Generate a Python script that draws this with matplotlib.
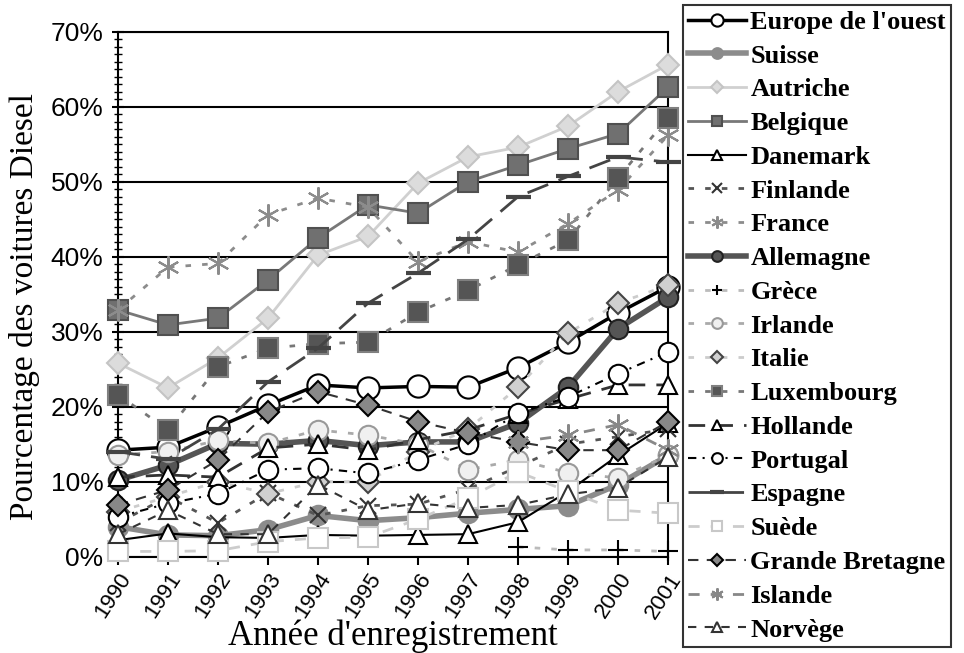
import numpy as np
import matplotlib
matplotlib.use("Agg")
import matplotlib.pyplot as plt
from matplotlib.ticker import MultipleLocator, FuncFormatter

nan = np.nan
years = list(range(1990, 2002))

# diesel share (%) per country
europe = [14.2, 14.6, 17.3, 20.2, 22.9, 22.5, 22.7, 22.6, 25.2, 28.6, 32.5, 36.0]
suisse = [4.0, 2.9, 2.8, 3.6, 5.5, 4.8, 5.2, 5.8, 6.3, 6.8, 9.6, 13.5]
autriche = [25.8, 22.5, 26.5, 31.8, 40.2, 42.7, 49.8, 53.3, 54.6, 57.4, 62.0, 65.6]
belgique = [32.9, 30.9, 31.8, 36.9, 42.5, 46.9, 45.8, 50.0, 52.2, 54.4, 56.4, 62.6]
danemark = [2.2, 3.1, 2.6, 2.5, 2.9, 2.8, 2.9, 3.0, 4.6, 8.7, 13.5, 17.8]
finlande = [4.5, 8.0, 4.5, 8.5, 5.5, 6.8, 7.0, 9.0, 12.0, 15.0, 16.0, 17.0]
france = [32.9, 38.6, 39.1, 45.6, 47.8, 46.6, 39.3, 42.0, 40.6, 44.4, 48.9, 56.2]
allemagne = [10.2, 12.2, 15.1, 15.0, 15.5, 14.8, 15.3, 15.3, 17.8, 22.6, 30.4, 34.6]
grece = [nan, nan, nan, nan, nan, nan, nan, nan, 1.3, 0.9, 0.9, 0.7]
irlande = [13.6, 14.0, 15.5, 15.1, 16.9, 16.2, 15.0, 11.6, 12.9, 11.2, 10.5, 13.5]
italie = [6.0, 8.0, 10.0, 8.4, 10.0, 10.0, 14.0, 17.0, 22.6, 29.8, 33.8, 36.2]
luxembourg = [21.6, 16.9, 25.3, 27.8, 28.4, 28.6, 32.6, 35.5, 38.9, 42.2, 50.5, 58.5]
hollande = [10.6, 10.9, 10.6, 14.5, 15.0, 14.2, 15.6, 16.9, 19.0, 21.0, 22.9, 22.9]
portugal = [5.3, 7.1, 8.4, 11.6, 11.8, 11.1, 12.9, 15.0, 19.1, 21.3, 24.4, 27.3]
espagne = [14.0, 13.0, 17.0, 23.3, 27.8, 33.8, 37.8, 42.3, 48.0, 50.7, 53.3, 52.6]
suede = [0.7, 0.7, 0.8, 2.0, 2.5, 2.6, 5.0, 7.8, 11.3, 8.7, 6.2, 5.8]
gbretagne = [6.9, 8.9, 12.9, 19.3, 22.0, 20.2, 18.0, 16.5, 15.3, 14.2, 14.2, 18.0]
islande = [nan, nan, nan, nan, nan, nan, nan, nan, 15.3, 16.2, 17.6, 14.2]
norvege = [3.0, 6.2, 3.0, 3.0, 9.6, 6.2, 7.1, 6.5, 6.9, 8.3, 9.2, 13.3]

star = (6, 2, 0)

# name, data, line color, lw, linestyle, marker, face, edge, marker size
series = [
    ("Europe de l'ouest", europe, "black", 2.5, "-", "o", "white", "black", 16),
    ("Suisse", suisse, "#8c8c8c", 4, "-", "o", "#8c8c8c", "#8c8c8c", 14),
    ("Autriche", autriche, "#d0d0d0", 2, "-", "D", "#dcdcdc", "#c4c4c4", 11),
    ("Belgique", belgique, "#787878", 2, "-", "s", "#707070", "#505050", 14),
    ("Danemark", danemark, "black", 1.5, "-", "^", "white", "black", 13),
    ("Finlande", finlande, "#555555", 2, (0, (2, 4)), "x", "#333333", "#333333", 12),
    ("France", france, "#8c8c8c", 2, (0, (2, 4)), star, "#8c8c8c", "#8c8c8c", 16),
    ("Allemagne", allemagne, "#555555", 4, "-", "o", "#555555", "#222222", 14),
    ("Grèce", grece, "#bbbbbb", 2, (0, (2, 4)), "+", "black", "black", 14),
    ("Irlande", irlande, "#aaaaaa", 2, (0, (2, 4)), "o", "#f0f0f0", "#999999", 14),
    ("Italie", italie, "#cccccc", 2, (0, (2, 4)), "D", "#d0d0d0", "#444444", 11),
    ("Luxembourg", luxembourg, "#777777", 2, (0, (2, 4)), "s", "#555555", "#808080", 14),
    ("Hollande", hollande, "#333333", 2, (0, (6, 4)), "^", "white", "black", 13),
    ("Portugal", portugal, "black", 1.5, (0, (4, 3, 1, 3)), "o", "white", "black", 14),
    ("Espagne", espagne, "#444444", 2, (0, (8, 4)), "_", "#444444", "#444444", 18),
    ("Suède", suede, "#cccccc", 2, (0, (4, 4)), "s", "white", "#c8c8c8", 14),
    ("Grande Bretagne", gbretagne, "#333333", 1.5, (0, (5, 4)), "D", "#888888", "black", 11),
    ("Islande", islande, "#888888", 2, (0, (4, 4)), star, "#888888", "#888888", 16),
    ("Norvège", norvege, "#333333", 1.5, (0, (4, 4)), "^", "white", "#333333", 13),
]

fig = plt.figure(figsize=(9.64, 6.53), dpi=100)
ax = fig.add_axes([0.1224, 0.1475, 0.5706, 0.804])

handles = []
for name, data, col, lw, ls, mk, fc, ec, ms in series:
    mew = 3 if mk == "_" else 1.5
    h, = ax.plot(years, data, color=col, lw=lw, ls=ls, marker=mk, markerfacecolor=fc,
                 markeredgecolor=ec, markersize=ms, markeredgewidth=mew, clip_on=False,
                 zorder=3, label=name)
    handles.append(h)

ax.set_xlim(1990, 2001)
ax.set_ylim(0, 70)
ax.yaxis.set_major_locator(MultipleLocator(10))
ax.yaxis.set_minor_locator(MultipleLocator(1))
ax.yaxis.set_major_formatter(FuncFormatter(lambda v, p: f"{v:.0f}%"))
ax.set_xticks(years)
ax.set_xticklabels([str(y) for y in years], rotation=57, ha="right", rotation_mode="anchor",
                   fontsize=16, family="Liberation Sans")
for lab in ax.get_yticklabels():
    lab.set_fontsize(19)
    lab.set_family("Liberation Sans")
ax.tick_params(axis="y", which="major", direction="inout", length=9, width=1.5, pad=6)
ax.tick_params(axis="y", which="minor", direction="inout", length=6, width=1)
ax.tick_params(axis="x", which="major", direction="out", length=6, width=1.5, pad=3)
ax.grid(axis="y", which="major", color="black", lw=1.5, zorder=1)
for s in ax.spines.values():
    s.set_linewidth(1.5)

ax.set_ylabel("Pourcentage des voitures Diesel", family="Liberation Serif", fontsize=24)
ax.yaxis.set_label_coords(-0.142, 0.476)
ax.set_xlabel("Année d'enregistrement", family="Liberation Serif", fontsize=25)
ax.xaxis.set_label_coords(0.5, -0.119)

leg = fig.legend(handles=handles, loc="upper left", bbox_to_anchor=(683 / 964, 1 - 5 / 653),
                 prop={"family": "Liberation Serif", "weight": "bold", "size": 19},
                 frameon=True, fancybox=False, edgecolor="black", handlelength=2.2,
                 handletextpad=0.15, labelspacing=0.39, borderpad=0.2, borderaxespad=0,
                 markerscale=0.55)
leg.get_frame().set_linewidth(1.5)

fig.savefig("out.png", dpi=100)
